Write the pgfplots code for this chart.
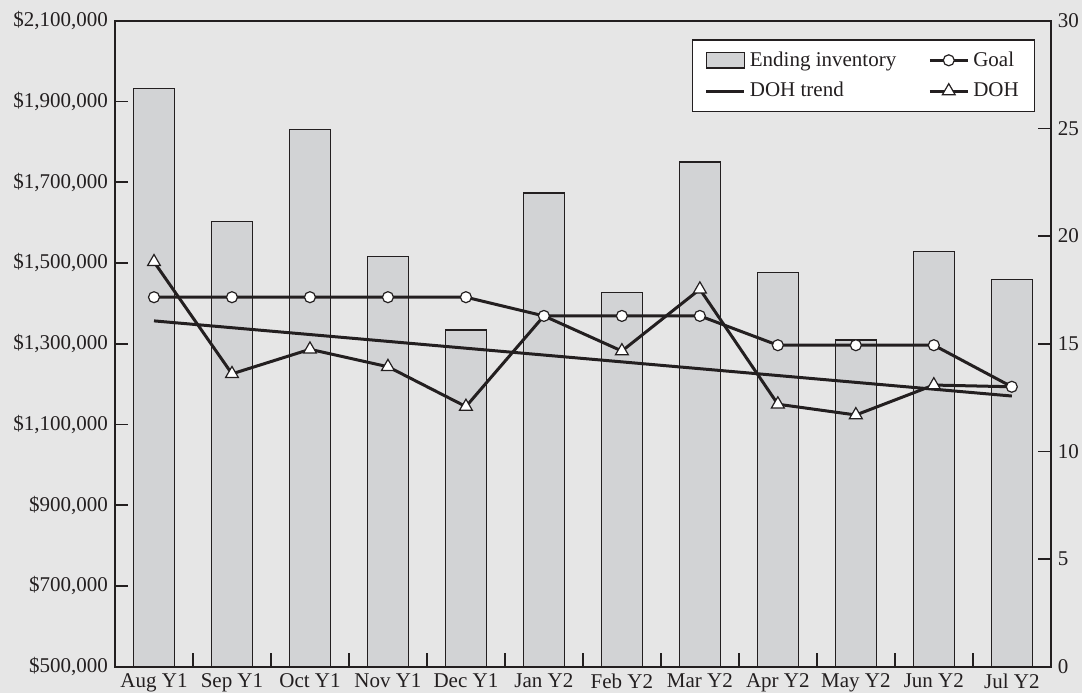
\documentclass[border=0pt]{standalone}
\usepackage{fontspec}
\setmainfont{Liberation Serif}
\usepackage{pgfplots}
\pgfplotsset{compat=1.18}
\definecolor{bgc}{RGB}{230,230,230}
\definecolor{barc}{RGB}{210,211,213}
\definecolor{inkc}{RGB}{35,31,32}
\pgfplotsset{
  mylegline/.style={legend image code/.code={%
    \draw[mark repeat=2,mark phase=2,##1] plot coordinates {(0pt,0pt) (9.5pt,0pt) (19pt,0pt)};}},
  barleg/.style={legend image code/.code={%
    \draw[fill=barc,draw=inkc,line width=0.7pt] (0pt,-3.8pt) rectangle (19pt,3.8pt);}},
  goalstyle/.style={inkc, line width=1.5pt, mark=*, mark size=2.75pt,
    mark options={fill=white, draw=inkc, line width=0.6pt}},
  dohstyle/.style={inkc, line width=1.5pt, mark=triangle*, mark size=3.7pt,
    mark options={fill=white, draw=inkc, line width=0.6pt}},
  ticklab/.style={font=\fontsize{10.5}{12}\selectfont, text=inkc},
}

\begin{document}
\begin{tikzpicture}
\path[fill=bgc, use as bounding box] (-57.5pt,-13.15pt) rectangle (483.5pt,333.35pt);

% inventory bars, left axis
\begin{axis}[
  at={(0,0)}, anchor=south west, scale only axis,
  width=467.9pt, height=323pt,
  xmin=-0.5, xmax=11.5, ymin=500000, ymax=2100000,
  axis line style={draw=inkc, line width=0.8pt},
  tick align=inside,
  xtick={0,...,11},
  xticklabels={Aug Y1,Sep Y1,Oct Y1,Nov Y1,Dec Y1,Jan Y2,Feb Y2,Mar Y2,Apr Y2,May Y2,Jun Y2,Jul Y2},
  minor x tick num=1,
  major x tick style={draw=none},
  minor x tick style={draw=inkc, line width=0.8pt},
  minor tick length=7pt,
  xtick pos=bottom, ytick pos=left,
  ytick={500000,700000,900000,1100000,1300000,1500000,1700000,1900000,2100000},
  yticklabels={{\$500,000},{\$700,000},{\$900,000},{\$1,100,000},{\$1,300,000},{\$1,500,000},{\$1,700,000},{\$1,900,000},{\$2,100,000}},
  scaled y ticks=false,
  major tick length=6.5pt,
  ytick style={draw=inkc, line width=0.8pt},
  tick label style={ticklab},
]
\addplot[ybar, bar width=20.5pt, fill=barc, draw=inkc, line width=0.7pt] coordinates {
  (0,1932600) (1,1602000) (2,1830000) (3,1515500) (4,1333900) (5,1673000)
  (6,1427300) (7,1750000) (8,1476800) (9,1309200) (10,1527900) (11,1459500)};
\end{axis}

% days on hand, right axis
\begin{axis}[
  at={(0,0)}, anchor=south west, scale only axis,
  width=467.9pt, height=323pt,
  xmin=-0.5, xmax=11.5, ymin=0, ymax=30,
  axis x line=none, axis y line*=right,
  axis line style={draw=inkc, line width=0.8pt},
  tick align=inside, major tick length=6.5pt,
  ytick={0,5,10,15,20,25,30},
  ytick style={draw=inkc, line width=0.8pt},
  tick label style={ticklab, /pgf/number format/assume math mode=true},
  legend columns=2, legend cell align=left,
  legend style={at={(0.9835,0.9712)}, anchor=north east,
    draw=inkc, line width=0.6pt, fill=white,
    font=\fontsize{10.5}{12}\selectfont, text=inkc,
    inner xsep=6pt, inner ysep=3.8pt, row sep=2.6pt,
    /tikz/every even column/.append style={column sep=14pt}},
]
\addlegendimage{barleg}\addlegendentry{Ending inventory}
\addlegendimage{mylegline, goalstyle}\addlegendentry{Goal}
\addlegendimage{mylegline, inkc, line width=1.5pt}\addlegendentry{DOH trend}
\addlegendimage{mylegline, dohstyle}\addlegendentry{DOH}

\addplot[inkc, line width=1.5pt, forget plot] coordinates {(0,16.06) (11,12.57)};
% Jan and Jul marks sit under the goal circles
\addplot[dohstyle, mark indices={1,2,3,4,5,7,8,9,10,11}, forget plot] coordinates {
  (0,18.8) (1,13.6) (2,14.74) (3,13.93) (4,12.08) (5,16.29)
  (6,14.66) (7,17.53) (8,12.19) (9,11.69) (10,13.08) (11,13.0)};
\addplot[goalstyle, forget plot] coordinates {
  (0,17.16) (1,17.16) (2,17.16) (3,17.16) (4,17.16) (5,16.29)
  (6,16.29) (7,16.29) (8,14.93) (9,14.93) (10,14.93) (11,13.0)};
\end{axis}
\end{tikzpicture}
\end{document}
